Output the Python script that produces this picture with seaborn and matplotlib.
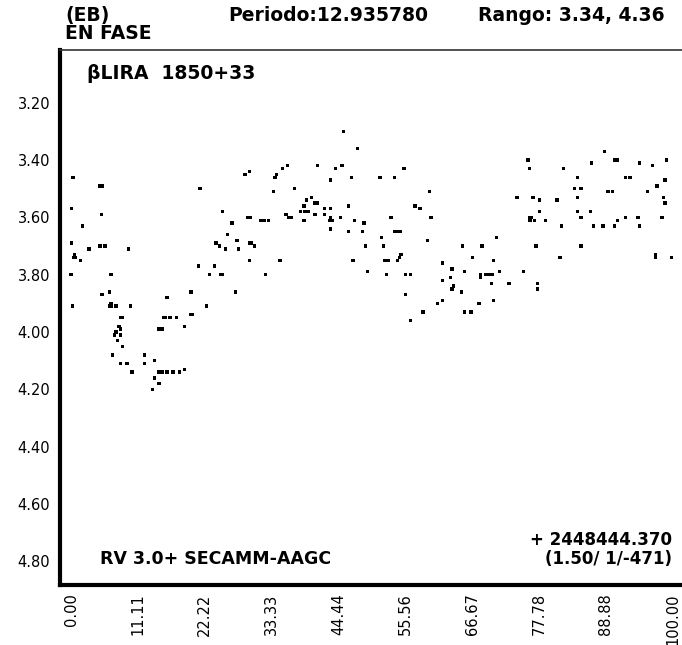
import matplotlib
matplotlib.use("Agg")
import matplotlib.pyplot as plt
import seaborn as sns
import pandas as pd

# Phase (%) and visual magnitude of each observation of beta Lyrae
phase = [
    0.33, 4.82, 5.24, 0.05, 5.10, 1.88, 0.05, 0.62, 0.38, 0.66, 1.61, 2.99,
    4.82, 5.65, 9.59, 0.00, 0.28, 6.65, 5.15, 6.43, 6.65, 6.43, 6.73, 7.48,
    9.86, 8.26, 8.53, 7.98, 8.26, 7.48, 7.20, 8.26, 7.76, 8.53, 6.93, 8.26,
    9.31, 10.14, 12.25, 12.25, 13.85, 13.85, 14.63, 13.58, 14.63, 15.13,
    15.96, 16.96, 18.07, 18.90, 14.63, 15.13, 15.41, 15.71, 16.46, 17.57,
    15.96, 18.90, 19.95, 20.16, 19.95, 21.23,
    21.44, 22.56, 23.05, 23.89, 24.93, 25.22, 27.31, 24.10, 24.65, 25.71,
    25.15, 25.98, 26.76, 27.59, 27.84,
    45.26, 47.66, 28.92, 29.70, 33.91, 34.19, 35.19, 36.02, 41.01, 43.93,
    45.05, 43.17, 46.66, 51.36, 53.74, 55.35, 59.62, 59.84, 59.29, 57.18,
    58.01, 33.69, 37.12, 29.42, 29.75, 31.58, 32.08, 32.86, 35.74, 36.12,
    36.57, 38.18, 38.73, 39.18, 40.01, 38.90, 39.45, 40.56, 40.94, 40.56,
    38.73, 42.10, 43.17, 42.10, 43.17, 42.94, 43.51, 43.17, 44.76, 46.09,
    47.16, 46.09, 48.70, 48.49, 48.99, 46.87, 49.25, 53.19, 51.65, 51.91,
    53.74, 54.36, 54.69, 52.19, 52.74, 54.30, 54.57, 54.85, 52.48, 55.64,
    56.40, 55.64, 56.40, 58.51, 60.89, 29.70, 30.04, 30.54, 29.70, 34.74,
    32.36,
    88.71, 90.31, 90.81, 75.96, 76.25, 81.83, 86.55, 94.53, 96.62, 99.02,
    84.23, 83.66, 84.77, 84.23, 92.14, 92.92, 89.26, 90.04, 95.86, 97.41,
    98.74, 98.52, 98.74, 74.14, 76.79, 77.84, 80.79, 77.84, 84.23, 86.32,
    76.30, 76.58, 76.30, 77.08, 78.91, 81.57, 84.77, 86.82, 88.43, 90.31,
    90.81, 92.14, 94.25, 94.53, 98.24, 77.29, 84.77, 81.28, 97.19, 97.19,
    99.85, 70.76, 65.11, 68.32, 66.71, 70.20, 61.72, 63.33, 65.44, 68.10,
    68.93, 69.43, 69.98, 68.10, 71.26, 75.25, 61.72, 63.05, 63.55, 63.33,
    64.88, 69.93, 72.81, 77.58, 77.58, 61.72, 65.44, 66.49, 67.82, 70.20,
]
magnitude = [
    3.46, 3.49, 3.49, 3.57, 3.59, 3.63, 3.69, 3.73, 3.74, 3.74, 3.75, 3.71,
    3.70, 3.70, 3.71, 3.80, 3.91, 3.80, 3.87, 3.86, 3.90, 3.91, 3.91, 3.91,
    3.91, 3.95, 3.95, 3.98, 3.99, 4.00, 4.01, 4.01, 4.03, 4.05, 4.08, 4.11,
    4.11, 4.14, 4.08, 4.11, 4.10, 4.16, 4.18, 4.20, 4.14, 4.14,
    4.14, 4.14, 4.14, 4.13, 3.99, 3.99, 3.95, 3.95, 3.95, 3.95,
    3.88, 3.98, 3.94, 3.94, 3.86, 3.77,
    3.50, 3.91, 3.80, 3.77, 3.80, 3.80, 3.86, 3.69, 3.70, 3.71,
    3.58, 3.66, 3.62, 3.68, 3.71,
    3.30, 3.36, 3.45, 3.44, 3.46, 3.45, 3.43, 3.42, 3.42, 3.43,
    3.42, 3.47, 3.46, 3.46, 3.46, 3.43, 3.51, 3.60, 3.68, 3.56,
    3.57, 3.51, 3.50, 3.60, 3.60, 3.61, 3.61, 3.61, 3.59, 3.60,
    3.60, 3.58, 3.56, 3.54, 3.53, 3.58, 3.58, 3.55, 3.55, 3.59,
    3.61, 3.57, 3.57, 3.59, 3.60, 3.61, 3.61, 3.64, 3.60, 3.56,
    3.61, 3.65, 3.62, 3.65, 3.70, 3.75, 3.79, 3.60, 3.67, 3.70,
    3.65, 3.65, 3.65, 3.75, 3.75, 3.75, 3.74, 3.73, 3.80, 3.80,
    3.80, 3.87, 3.96, 3.93, 3.90, 3.69, 3.69, 3.70, 3.75, 3.75,
    3.80,
    3.37, 3.40, 3.40, 3.40, 3.43, 3.43, 3.41, 3.41, 3.42, 3.40,
    3.46, 3.50, 3.50, 3.53, 3.46, 3.46, 3.51, 3.51, 3.51, 3.49,
    3.47, 3.53, 3.55, 3.53, 3.53, 3.54, 3.54, 3.58, 3.58, 3.58,
    3.60, 3.60, 3.61, 3.61, 3.61, 3.63, 3.60, 3.63, 3.63, 3.63,
    3.61, 3.60, 3.60, 3.63, 3.60, 3.70, 3.70, 3.74, 3.73, 3.74,
    3.74, 3.67, 3.70, 3.70, 3.74, 3.75, 3.76, 3.78, 3.79, 3.80,
    3.80, 3.80, 3.80, 3.81, 3.79, 3.79, 3.82, 3.81, 3.84, 3.85,
    3.86, 3.83, 3.83, 3.83, 3.85, 3.89, 3.93, 3.93, 3.90, 3.89,
]

x_ticks = [0, 100 / 9, 200 / 9, 300 / 9, 400 / 9, 500 / 9, 600 / 9, 700 / 9, 800 / 9, 100]
x_tick_labels = ["0.00", "11.11", "22.22", "33.33", "44.44", "55.56",
                 "66.67", "77.78", "88.88", "100.00"]
y_ticks = [3.20, 3.40, 3.60, 3.80, 4.00, 4.20, 4.40, 4.60, 4.80]
y_tick_labels = ["3.20", "3.40", "3.60", "3.80", "4.00", "4.20", "4.40", "4.60", "4.80"]

df = pd.DataFrame({"phase": phase, "mag": magnitude})

sns.set_style("white")
plt.rcParams["font.family"] = ["DejaVu Sans"]

fig = plt.figure(figsize=(6.82, 6.45), dpi=100)
ax = fig.add_axes([60 / 682, (645 - 585) / 645, 1 - 60 / 682, (585 - 50) / 645])

sns.scatterplot(data=df, x="phase", y="mag", marker="s", s=6, color="black",
                linewidth=0, edgecolor="none", ax=ax, legend=False)

ax.set_xlim(-1.83, 101.56)
ax.set_ylim(4.883, 3.016)
ax.set_xticks(x_ticks)
ax.set_xticklabels(x_tick_labels, rotation=90)
ax.set_yticks(y_ticks)
ax.set_yticklabels(y_tick_labels)
ax.set_xlabel("")
ax.set_ylabel("")

ax.tick_params(axis="both", direction="in", length=3, width=1, color="black",
               labelsize=10.5, labelcolor="black")
ax.tick_params(axis="y", pad=7)
ax.tick_params(axis="x", pad=6)

for side in ("left", "bottom"):
    ax.spines[side].set_linewidth(3)
    ax.spines[side].set_color("black")
ax.spines["top"].set_linewidth(1.2)
ax.spines["top"].set_color("#333333")
ax.spines["right"].set_visible(False)

bold = dict(fontweight="bold", color="black", family="DejaVu Sans")

# Header lines above the frame
fig.text(65 / 682, 1 - 21 / 645, "(EB)", fontsize=13.5, va="baseline", **bold)
fig.text(65 / 682, 1 - 39 / 645, "EN FASE", fontsize=13.5, va="baseline", **bold)
fig.text(228 / 682, 1 - 21 / 645, "Periodo:12.935780", fontsize=13.5, va="baseline", **bold)
fig.text(478 / 682, 1 - 21 / 645, "Rango: 3.34, 4.36", fontsize=13.5, va="baseline", **bold)

# Labels inside the frame
fig.text(87 / 682, 1 - 79 / 645, "\u03b2LIRA  1850+33", fontsize=13.5, va="baseline", **bold)
fig.text(100 / 682, 1 - 564 / 645, "RV 3.0+ SECAMM-AAGC", fontsize=12.5, va="baseline", **bold)
fig.text(672 / 682, 1 - 545 / 645, "+ 2448444.370", fontsize=12, va="baseline",
         ha="right", **bold)
fig.text(672 / 682, 1 - 564 / 645, "(1.50/ 1/-471)", fontsize=12, va="baseline",
         ha="right", **bold)

fig.savefig("out.png", dpi=100)
